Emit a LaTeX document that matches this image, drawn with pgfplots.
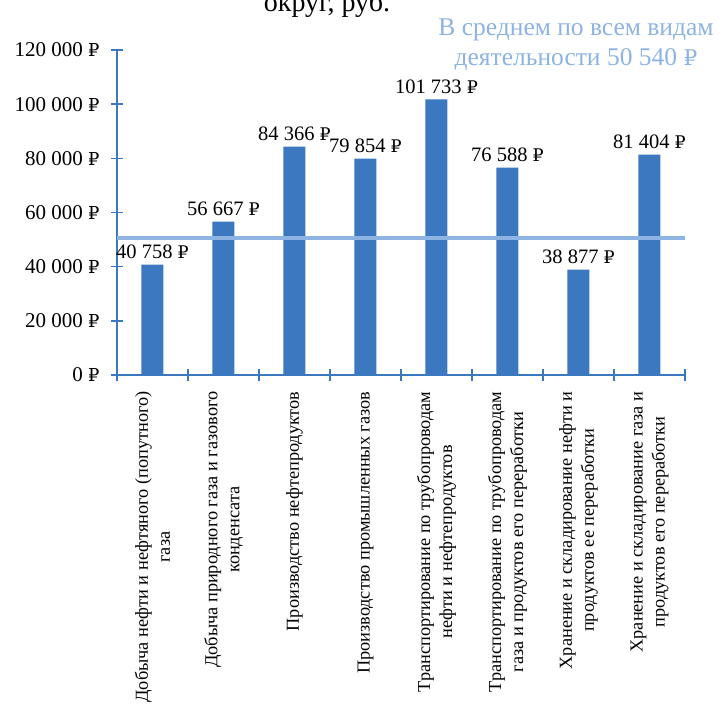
\documentclass[border=0pt]{standalone}
\usepackage{pgfplots}
\pgfplotsset{compat=1.18}
\usepackage{fontspec}
\setmainfont{Liberation Serif}
\newfontfamily\rubfont{DejaVu Serif}
\newcommand{\rub}{{\rubfont\scalebox{0.85}{₽}}}
\definecolor{barblue}{HTML}{3B78BF}
\definecolor{meanblue}{HTML}{8DB4E2}
\definecolor{notecol}{HTML}{8DB3E2}

\begin{document}
\begin{tikzpicture}
\begin{axis}[
  at={(0pt,0pt)}, anchor=south west,
  width=568pt, height=325pt, scale only axis,
  xmin=0.5, xmax=8.5, ymin=0, ymax=120000,
  axis x line*=bottom, axis y line*=left,
  axis line style={barblue, line width=1.5pt},
  tick align=center, major tick length=12pt,
  tick style={barblue, line width=1.5pt},
  scaled y ticks=false,
  ytick={0,20000,40000,60000,80000,100000,120000},
  yticklabels={0 \rub,20 000 \rub,40 000 \rub,60 000 \rub,80 000 \rub,100 000 \rub,120 000 \rub},
  yticklabel style={font=\fontsize{21}{24}\selectfont, xshift=-8pt},
  xtick={0.5,1.5,2.5,3.5,4.5,5.5,6.5,7.5,8.5},
  xticklabels={},
  extra x ticks={1,2,3,4,5,6,7,8},
  extra x tick style={major tick length=0pt},
  extra x tick labels={
    {Добыча нефти и нефтяного (попутного)\\газа},
    {Добыча природного газа и газового\\конденсата},
    {Производство нефтепродуктов},
    {Производство промышленных газов},
    {Транспортирование по трубопроводам\\нефти и нефтепродуктов},
    {Транспортирование по трубопроводам\\газа и продуктов его переработки},
    {Хранение и складирование нефти и\\продуктов ее переработки},
    {Хранение и складирование газа и\\продуктов его переработки}},
  xticklabel style={rotate=90, xshift=-13pt, anchor=east, align=center,
    font=\fontsize{18.3}{22}\selectfont},
  clip=false,
]
\addplot[ybar, bar width=22pt, fill=barblue, draw=none,
  nodes near coords, point meta=explicit symbolic,
  nodes near coords style={font=\fontsize{20.5}{24}\selectfont, text=black, anchor=south, yshift=2pt}]
coordinates {
  (1,40758) [40 758 \rub]
  (2,56667) [56 667 \rub]
  (3,84366) [84 366 \rub]
  (4,79854) [79 854 \rub]
  (5,101733) [101 733 \rub]
  (6,76588) [76 588 \rub]
  (7,38877) [38 877 \rub]
  (8,81404) [81 404 \rub]
};
\addplot[meanblue, line width=4pt, forget plot]
coordinates {(0.5,50540) (8.5,50540)};
\end{axis}
\node[font=\fontsize{25.5}{30}\selectfont, text=notecol, align=center]
  at (459pt,330pt) {В среднем по всем видам\\деятельности 50 540 \rub};
\node[font=\fontsize{28}{30}\selectfont, anchor=base] at (210pt,363pt) {округ, руб.};
\pgfresetboundingbox
\useasboundingbox (-117pt,-336pt) rectangle (607pt,375pt);
\end{tikzpicture}
\end{document}
